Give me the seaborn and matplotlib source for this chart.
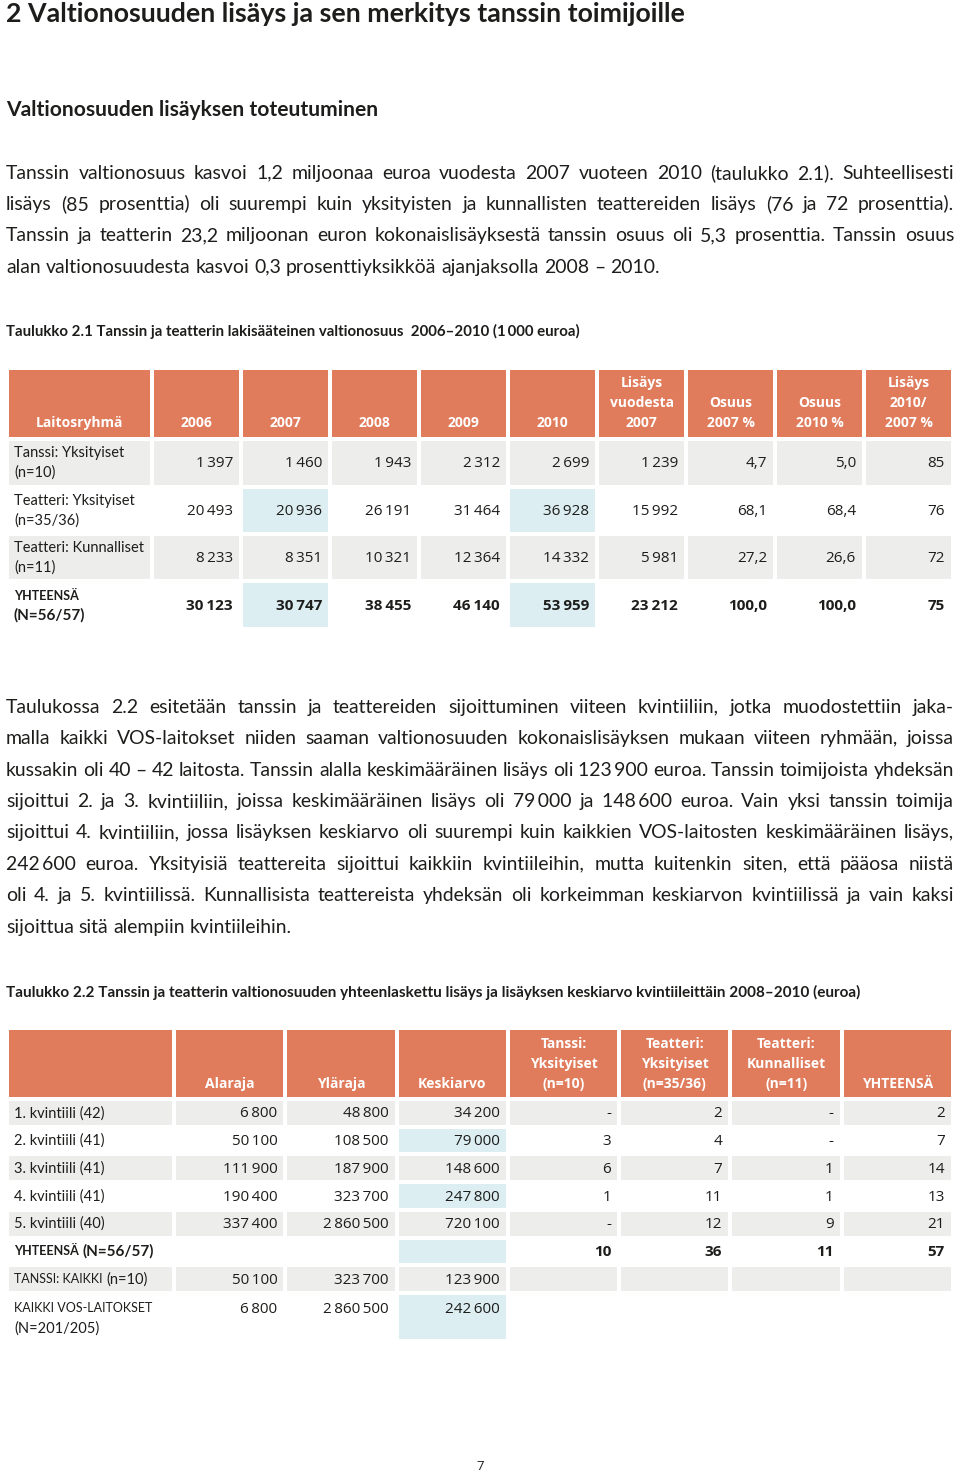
import numpy as np
import matplotlib
matplotlib.use('Agg')
import matplotlib.pyplot as plt
from matplotlib.colors import ListedColormap
import seaborn as sns

# ---- Taulukko 2.1: valtionosuus 2006-2010 (1 000 euroa) ----
t1_groups = ['Tanssi: Yksityiset', 'Teatteri: Yksityiset', 'Teatteri: Kunnalliset']
t1_n = ['(n=10)', '(n=35/36)', '(n=11)']
t1_headers = ['2006', '2007', '2008', '2009', '2010', 'Lisäys\nvuodesta\n2007',
              'Osuus\n2007 %', 'Osuus\n2010 %', 'Lisäys\n2010/\n2007 %']
v2006 = [1397, 20493, 8233, 30123]
v2007 = [1460, 20936, 8351, 30747]
v2008 = [1943, 26191, 10321, 38455]
v2009 = [2312, 31464, 12364, 46140]
v2010 = [2699, 36928, 14332, 53959]
lisays_2007 = [1239, 15992, 5981, 23212]
osuus_2007 = [4.7, 68.1, 27.2, 100.0]
osuus_2010 = [5.0, 68.4, 26.6, 100.0]
lisays_pct = [85, 76, 72, 75]

# ---- Taulukko 2.2: kvintiilit 2008-2010 (euroa) ----
t2_headers = ['Alaraja', 'Yläraja', 'Keskiarvo', 'Tanssi:\nYksityiset\n(n=10)',
              'Teatteri:\nYksityiset\n(n=35/36)', 'Teatteri:\nKunnalliset\n(n=11)', 'YHTEENSÄ']
kvintiilit = ['1. kvintiili (42)', '2. kvintiili (41)', '3. kvintiili (41)',
              '4. kvintiili (41)', '5. kvintiili (40)']
alaraja = [6800, 50100, 111900, 190400, 337400]
ylaraja = [48800, 108500, 187900, 323700, 2860500]
keskiarvo = [34200, 79000, 148600, 247800, 720100]
tanssi_yks = [0, 3, 6, 1, 0]
teatteri_yks = [2, 4, 7, 11, 12]
teatteri_kunn = [0, 0, 1, 1, 9]
yhteensa = [2, 7, 14, 13, 21]
yhteensa_rivi = [10, 36, 11, 57]
tanssi_kaikki = [50100, 323700, 123900]
kaikki_vos = [6800, 2860500, 242600]

title = '2 Valtionosuuden lisäys ja sen merkitys tanssin toimijoille'
subtitle = 'Valtionosuuden lisäyksen toteutuminen'
caption1 = 'Taulukko 2.1 Tanssin ja teatterin lakisääteinen valtionosuus  2006–2010 (1\u2009000 euroa)'
caption2 = ('Taulukko 2.2 Tanssin ja teatterin valtionosuuden yhteenlaskettu lisäys ja '
            'lisäyksen keskiarvo kvintiileittäin 2008–2010 (euroa)')
para1 = [
    'Tanssin valtionosuus kasvoi 1,2 miljoonaa euroa vuodesta 2007 vuoteen 2010 (taulukko 2.1). Suhteellisesti',
    'lisäys (85 prosenttia) oli suurempi kuin yksityisten ja kunnallisten teattereiden lisäys (76 ja 72 prosenttia).',
    'Tanssin ja teatterin 23,2 miljoonan euron kokonaislisäyksestä tanssin osuus oli 5,3 prosenttia. Tanssin osuus',
    'alan valtionosuudesta kasvoi 0,3 prosenttiyksikköä ajanjaksolla 2008 – 2010.',
]
para2 = [
    'Taulukossa 2.2 esitetään tanssin ja teattereiden sijoittuminen viiteen kvintiiliin, jotka muodostettiin jaka-',
    'malla kaikki VOS-laitokset niiden saaman valtionosuuden kokonaislisäyksen mukaan viiteen ryhmään, joissa',
    'kussakin oli 40 – 42 laitosta. Tanssin alalla keskimääräinen lisäys oli 123\u2009900 euroa. Tanssin toimijoista yhdeksän',
    'sijoittui 2. ja 3. kvintiiliin, joissa keskimääräinen lisäys oli 79\u2009000 ja 148\u2009600 euroa. Vain yksi tanssin toimija',
    'sijoittui 4. kvintiiliin, jossa lisäyksen keskiarvo oli suurempi kuin kaikkien VOS-laitosten keskimääräinen lisäys,',
    '242\u2009600 euroa. Yksityisiä teattereita sijoittui kaikkiin kvintiileihin, mutta kuitenkin siten, että pääosa niistä',
    'oli 4. ja 5. kvintiilissä. Kunnallisista teattereista yhdeksän oli korkeimman keskiarvon kvintiilissä ja vain kaksi',
    'sijoittua sitä alempiin kvintiileihin.',
]

W, H = 960, 1476
sns.set_theme(style='white')
plt.rcParams['font.family'] = ['Lato', 'DejaVu Sans']
BODY = ['Lato', 'DejaVu Sans']
TAB = ['Open Sans', 'DejaVu Sans']
INK = '#1d1d1b'
ORANGE, GRAY, BLUE = '#E07B5B', '#EDEDEC', '#DCEEF2'
cmap = ListedColormap(['#FFFFFF', GRAY, BLUE, ORANGE])

fig = plt.figure(figsize=(W / 100, H / 100), dpi=100)
ax = fig.add_axes([0, 0, 1, 1], zorder=5)
ax.set_xlim(0, W)
ax.set_ylim(H, 0)
ax.axis('off')
renderer = fig.canvas.get_renderer()


def wid(t):
    return t.get_window_extent(renderer).width


def txt(x, y, s, size, family=BODY, **kw):
    # y is the visual centre of the line; place on baseline below it
    kw.setdefault('color', INK)
    return ax.text(x, y + 0.3 * size * 100 / 72, s, fontsize=size, family=family,
                   va='baseline', **kw)


def fit(x, y, s, target, size, weight='bold'):
    t = txt(x, y, s, size, weight=weight)
    new = size * target / wid(t)
    t.remove()
    return txt(x, y, s, new, weight=weight)


def natural(s, size):
    t = ax.text(0, 0, s, fontsize=size, family=BODY)
    w = wid(t)
    t.remove()
    return w


def paragraph(lines, y0, step, size, x0=6, x1=954):
    space = natural('x x', size) - natural('xx', size)
    for i, line in enumerate(lines):
        words = line.split(' ')
        ts = [txt(0, y0 + i * step, w, size) for w in words]
        ws = [wid(t) for t in ts]
        last = i == len(lines) - 1
        gap = space if last else (x1 - x0 - sum(ws)) / (len(ws) - 1)
        x = x0
        for t, w in zip(ts, ws):
            t.set_x(x)
            x += w + gap


def parts(x, y, items):
    for s, size, weight in items:
        t = txt(x, y, s, size, fontweight=weight)
        x += wid(t) + 4


def block(x0, x1, y0, y1, codes):
    bax = fig.add_axes([x0 / W, 1 - y1 / H, (x1 - x0) / W, (y1 - y0) / H], zorder=1)
    sns.heatmap(np.array(codes), ax=bax, cmap=cmap, vmin=-0.5, vmax=3.5, cbar=False,
                linewidths=1.5, linecolor='white', xticklabels=False, yticklabels=False)
    return bax


def header(cx, bottom, label):
    for k, s in enumerate(reversed(label.split('\n'))):
        txt(cx, bottom - 20 * k, s, 10, family=TAB, color='white', weight='bold', ha='center')


def fmt_int(v):
    return '-' if v == 0 else f'{v:,}'.replace(',', '\u2009')


def fmt_dec(v):
    return f'{v:.1f}'.replace('.', ',')


# ---- page text ----
fit(6, 14, title, 684, 16)
fit(6, 110, subtitle, 374, 14)
# body size: longest justified line set with normal word spacing
justified = para1[:-1] + para2[:-1]
body_size = 13 * min(948 / natural(s, 13) for s in justified)
paragraph(para1, 173, 31.3, body_size)
fit(6, 331, caption1, 577, 9.5)
paragraph(para2, 707, 31.4, body_size)
fit(6, 992, caption2, 856, 9.5)
txt(480, 1466, '7', 9.5, family=TAB, ha='center')

NUM = 11
LAB = 10.5
SC = 9

# ---- table 2.1 ----
X0, XL, X1 = 7, 152, 953
YH, YB, YE = 368, 439, 629
colw = (X1 - XL) / 9
rowh = (YE - YB) / 4
shade = [1, 0, 1, 0]
blue_cols = {1, 4}
body = [[2 if (shade[r] == 0 and c in blue_cols) else shade[r] for c in range(9)] for r in range(4)]
block(X0, XL, YH, YB, [[3]])
block(XL, X1, YH, YB, [[3] * 9])
block(X0, XL, YB, YE, [[s] for s in shade])
block(XL, X1, YB, YE, body)

header((X0 + XL) / 2, YB - 16, 'Laitosryhmä')
for c, h in enumerate(t1_headers):
    header(XL + (c + 0.5) * colw, YB - 16, h)

t1_values = [v2006, v2007, v2008, v2009, v2010, lisays_2007, osuus_2007, osuus_2010, lisays_pct]
t1_fmts = [fmt_int] * 6 + [fmt_dec] * 2 + [fmt_int]
for c, (vals, f) in enumerate(zip(t1_values, t1_fmts)):
    for r, v in enumerate(vals):
        txt(XL + (c + 1) * colw - 8, YB + (r + 0.5) * rowh, f(v), NUM, family=TAB,
            ha='right', weight='bold' if r == 3 else 'normal')
for r in range(3):
    yc = YB + (r + 0.5) * rowh
    txt(14, yc - 10, t1_groups[r], LAB)
    txt(14, yc + 10, t1_n[r], LAB)
yc = YB + 3.5 * rowh
txt(14, yc - 9, 'YHTEENSÄ', SC, weight='bold')
txt(14, yc + 10, '(N=56/57)', 11, weight='bold')

# ---- table 2.2 ----
X0, XL, X1 = 7, 174, 953
YH, YB, YL, YE = 1028, 1099, 1293, 1341
colw = (X1 - XL) / 7
rowh = (YL - YB) / 7
shade = [1, 0, 1, 0, 1, 0, 1]
body = [[2 if (shade[r] == 0 and c == 2) else shade[r] for c in range(7)] for r in range(7)]
block(X0, XL, YH, YB, [[3]])
block(XL, X1, YH, YB, [[3] * 7])
block(X0, XL, YB, YL, [[s] for s in shade])
block(XL, X1, YB, YL, body)
block(X0, XL, YL, YE, [[0]])
block(XL, X1, YL, YE, [[0, 0, 2, 0, 0, 0, 0]])

for c, h in enumerate(t2_headers):
    header(XL + (c + 0.5) * colw, YB - 15.5, h)

t2_values = [alaraja, ylaraja, keskiarvo, tanssi_yks, teatteri_yks, teatteri_kunn, yhteensa]
for c, vals in enumerate(t2_values):
    for r, v in enumerate(vals):
        txt(XL + (c + 1) * colw - 8, YB + (r + 0.5) * rowh, fmt_int(v), NUM, family=TAB, ha='right')
for r, lab in enumerate(kvintiilit):
    txt(14, YB + (r + 0.5) * rowh, lab, LAB)

y5 = YB + 5.5 * rowh
parts(14, y5, [('YHTEENSÄ', SC, 'bold'), ('(N=56/57)', 11, 'bold')])
for c, v in enumerate(yhteensa_rivi):
    txt(XL + (c + 4) * colw - 8, y5, fmt_int(v), NUM, family=TAB, ha='right', weight='bold')

y6 = YB + 6.5 * rowh
parts(14, y6, [('TANSSI: KAIKKI', SC, 'normal'), ('(n=10)', LAB, 'normal')])
for c, v in enumerate(tanssi_kaikki):
    txt(XL + (c + 1) * colw - 8, y6, fmt_int(v), NUM, family=TAB, ha='right')

y7 = YL + 15
txt(14, y7, 'KAIKKI VOS-LAITOKSET', SC)
txt(14, y7 + 20, '(N=201/205)', LAB)
for c, v in enumerate(kaikki_vos):
    txt(XL + (c + 1) * colw - 8, y7, fmt_int(v), NUM, family=TAB, ha='right')

fig.savefig('out.png', dpi=100, facecolor='white')
